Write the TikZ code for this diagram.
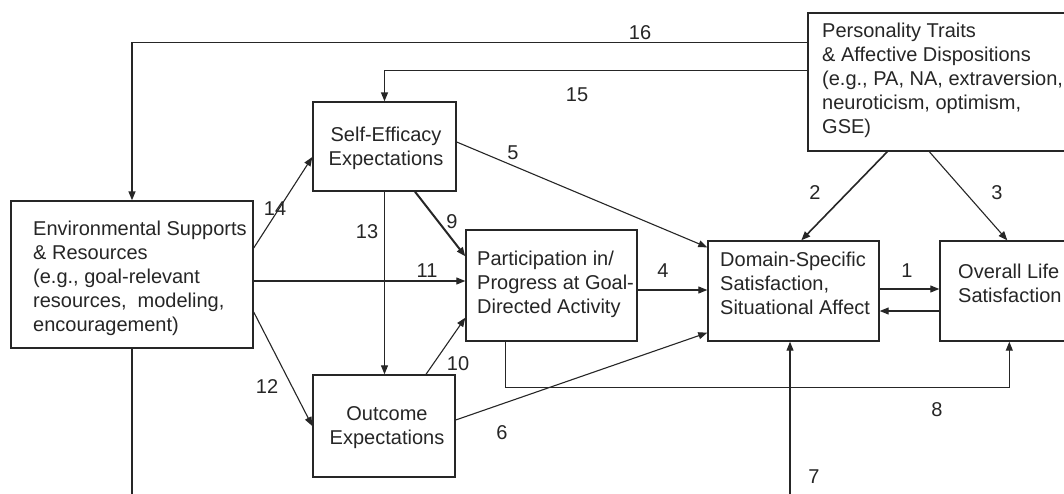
\documentclass[tikz,border=0pt]{standalone}
\usepackage{fontspec}
\setmainfont{Liberation Sans}
\usetikzlibrary{arrows.meta,calc}
\definecolor{ink}{HTML}{262626}
\tikzset{
  box/.style={draw=ink, line width=1.4pt, rectangle, inner sep=0pt},
  txt/.style={inner sep=0pt, align=left, text=ink, font=\fontsize{20}{24}\selectfont},
  ctxt/.style={txt, align=center},
  num/.style={inner sep=0pt, text=ink, font=\fontsize{20}{24}\selectfont},
  arr/.style={draw=ink, line width=1.1pt, -{Triangle[length=9pt,width=7pt]}},
  heavy/.style={arr, line width=2pt},
  plain/.style={draw=ink, line width=1.3pt},
}
\begin{document}
\begin{tikzpicture}[x=1pt,y=-1pt]
\clip (0,0) rectangle (1064,493);
\fill[white] (0,0) rectangle (1064,493);

% boxes
\node[box, minimum width=242, minimum height=147] (env) at (132,274.5) {};
\node[box, minimum width=143, minimum height=89] (se) at (384.5,146.5) {};
\node[box, minimum width=171, minimum height=111] (part) at (551.5,285.5) {};
\node[box, minimum width=142, minimum height=102] (out) at (384,426) {};
\node[box, minimum width=171, minimum height=100] (dom) at (793.5,291) {};
\node[box, minimum width=160, minimum height=100] (life) at (1020,291) {};
\node[box, minimum width=300, minimum height=138] (pers) at (958,82) {};

% box texts
\node[txt, anchor=west] (envt) at (33,278) {Environmental Supports\\\& Resources\\(e.g., goal-relevant\\resources,\ \ modeling,\\encouragement)};
\node[ctxt] (set) at (386,148) {Self-Efficacy\\Expectations};
\node[txt, anchor=west] (partt) at (477,284) {Participation in/\\Progress at Goal-\\Directed Activity};
\node[ctxt] (outt) at (387,428) {Outcome\\Expectations};
\node[txt, anchor=west] (domt) at (720,283.5) {Domain-Specific\\Satisfaction,\\Situational Affect};
\node[txt, anchor=west] (lifet) at (958,283.5) {Overall Life\\Satisfaction};
\node[txt, anchor=west] (perst) at (822,80.5) {Personality Traits\\\& Affective Dispositions\\(e.g., PA, NA, extraversion,\\neuroticism, optimism,\\GSE)};

% free ends at the lower edge
\coordinate (envfoot) at (132,510);
\coordinate (foot7) at (790,510);

% connectors
\draw[arr, line width=1.4pt] ([yshift=-30pt]pers.north west) -| (env.north);
\draw[arr, line width=1.4pt] ([yshift=-58pt]pers.north west) -| (se.north);
\draw[arr] ([yshift=26.5pt]env.east) -- ([yshift=-10.5pt]se.west);
\draw[arr] ([yshift=-6.5pt]env.east) -- ([yshift=4.5pt]part.west);
\draw[arr] ([yshift=-37.5pt]env.east) -- (out.west);
\draw[arr] (se.south) -- (se.south |- out.north);
\draw[heavy] ([xshift=30.5pt]se.south) -- ([yshift=-27pt]part.north west);
\draw[arr] ([yshift=4.5pt]se.east) -- ([yshift=-7pt]dom.north west);
\draw[arr] ([xshift=42pt]out.north) -- ([yshift=24pt]part.south west);
\draw[arr] ([yshift=6pt]out.east) -- ([yshift=9pt]dom.south west);
\draw[arr] ([yshift=-4.5pt]part.east) -- ([yshift=1pt]dom.west);
\draw[arr] ([yshift=2pt]dom.east) -- ([yshift=2pt]dom.east -| life.west);
\draw[arr] ([yshift=-20pt]dom.east -| life.west) -- ([yshift=-20pt]dom.east);
\draw[heavy, line width=1.6pt] ([xshift=80pt]pers.south west) -- ([xshift=94pt]dom.north west);
\draw[arr] ([xshift=122pt]pers.south west) -- ([xshift=68pt]life.north west);
\draw[arr] ([xshift=40pt]part.south west) -- ++(0,46) -| ([xshift=70pt]life.south west);
\draw[arr] (foot7) -- (foot7 |- dom.south);
\draw[plain] (env.south) -- (envfoot);

% path numbers
\node[num] (n1) at (907,271) {1};
\node[num] (n2) at (815,193) {2};
\node[num] (n3) at (997,193) {3};
\node[num] (n4) at (663,271) {4};
\node[num] (n5) at (513,153) {5};
\node[num] (n6) at (502,433) {6};
\node[num] (n7) at (814,477) {7};
\node[num] (n8) at (937,410) {8};
\node[num] (n9) at (452,222) {9};
\node[num] (n10) at (458,364) {10};
\node[num] (n11) at (427,271) {11};
\node[num] (n12) at (267,387) {12};
\node[num] (n13) at (367,232) {13};
\node[num] (n14) at (275,209) {14};
\node[num] (n15) at (577,95) {15};
\node[num] (n16) at (640,33) {16};
\end{tikzpicture}
\end{document}
